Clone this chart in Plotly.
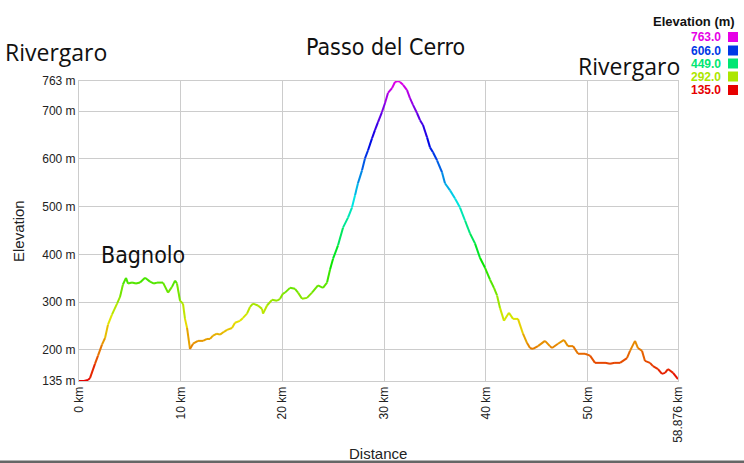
import colorsys
import plotly.graph_objects as go

# ---- data ----
distance_km = [0.0, 0.49, 0.88, 1.08, 1.57, 1.87, 2.26, 2.56, 2.85, 3.24, 3.74, 4.03, 4.32, 4.62,
               4.82, 5.21, 5.60, 6.00, 6.49, 6.98, 7.37, 7.67, 8.26, 8.75, 9.14, 9.44, 9.63, 9.93,
               10.22, 10.42, 10.62, 10.91, 11.21, 11.70, 12.19, 12.58, 12.88, 13.17, 13.56, 13.86,
               14.25, 14.55, 15.04, 15.33, 15.82, 16.12, 16.51, 16.81, 17.10, 17.59, 17.99, 18.09,
               18.48, 18.97, 19.46, 19.76, 20.05, 20.25, 20.74, 21.23, 21.53, 21.92, 22.41, 22.90,
               23.49, 23.98, 24.38, 24.67, 24.97, 25.46, 25.95, 26.44, 26.83, 27.13, 27.42, 27.82,
               28.11, 28.41, 28.80, 29.09, 29.39, 29.78, 30.08, 30.37, 30.77, 31.06, 31.35, 31.55,
               31.85, 32.24, 32.53, 32.83, 33.22, 33.52, 33.81, 34.21, 34.50, 34.79, 35.19, 35.68,
               35.97, 36.47, 36.96, 37.45, 37.94, 38.43, 38.92, 39.41, 39.91, 40.40, 40.79, 41.09,
               41.38, 41.77, 42.26, 42.66, 43.15, 43.64, 44.03, 44.33, 44.62, 45.11, 45.80, 46.29,
               46.49, 47.08, 47.67, 48.06, 48.56, 49.05, 49.74, 50.23, 50.72, 51.21, 51.70, 52.19,
               52.68, 53.18, 53.86, 54.16, 54.65, 54.94, 55.34, 55.63, 56.12, 56.42, 56.91, 57.30,
               57.60, 57.89, 58.39, 58.876]
elevation_m = [135, 135, 137, 141, 171, 188, 211, 225, 253, 274, 297, 311, 337, 351,
               339, 341, 339, 341, 351, 343, 339, 341, 341, 320, 332, 345, 339, 303,
               297, 265, 246, 202, 213, 219, 219, 223, 223, 230, 234, 232,
               238, 242, 246, 257, 261, 267, 276, 290, 297, 293, 286, 276,
               293, 305, 303, 307, 318, 320, 330, 328, 320, 307, 309, 320,
               335, 330, 341, 368, 391, 419, 456, 477, 498, 524, 549, 576,
               601, 618, 643, 660, 677, 698, 717, 738, 748, 761, 763, 761,
               755, 744, 727, 713, 696, 681, 671, 645, 624, 614, 597, 572,
               549, 534, 517, 498, 471, 444, 423, 393, 372, 347, 330, 314,
               288, 261, 278, 265, 265, 234, 215, 204, 202, 208, 219, 208,
               204, 213, 221, 208, 208, 192, 192, 188, 173, 173, 173, 171,
               173, 173, 183, 198, 219, 204, 198, 177, 173, 166, 160, 150,
               152, 160, 152, 139]

x_tick_vals = [0, 10, 20, 30, 40, 50, 58.876]
x_tick_text = ["0 km", "10 km", "20 km", "30 km", "40 km", "50 km", "58.876 km"]
y_tick_vals = [135, 200, 300, 400, 500, 600, 700, 763]
y_tick_text = ["135 m", "200 m", "300 m", "400 m", "500 m", "600 m", "700 m", "763 m"]
legend_values = [763.0, 606.0, 449.0, 292.0, 135.0]

E_MIN, E_MAX = 135.0, 763.0


def elev_color(e):
    h = (e - E_MIN) / (E_MAX - E_MIN) * 300.0 / 360.0
    r, g, b = colorsys.hsv_to_rgb(h, 1.0, 0.9)
    return "rgb(%d,%d,%d)" % (round(r * 255), round(g * 255), round(b * 255))


# plot area in pixels: x 79..678, y 81..381
def px(x):
    return (x - 79) / 599.0


def py(y):
    return (381 - y) / 300.0


fig = go.Figure()
for i in range(len(distance_km) - 1):
    mid = (elevation_m[i] + elevation_m[i + 1]) / 2.0
    fig.add_trace(go.Scatter(
        x=[distance_km[i], distance_km[i + 1]],
        y=[elevation_m[i], elevation_m[i + 1]],
        mode="lines",
        line=dict(color=elev_color(mid), width=2),
        hoverinfo="skip",
        showlegend=False,
    ))

grid = "#cccccc"
fig.update_layout(
    width=744, height=463,
    margin=dict(l=79, r=66, t=81, b=82),
    paper_bgcolor="white", plot_bgcolor="white",
    font=dict(family="Liberation Sans, Arial, sans-serif", color="#222222", size=12),
    showlegend=False,
    xaxis=dict(range=[0, 58.876], tickvals=x_tick_vals, ticktext=x_tick_text,
               tickangle=-90, showgrid=True, gridcolor=grid, gridwidth=1,
               showline=True, linecolor=grid, mirror=True, zeroline=False,
               ticks="", tickfont=dict(size=12, color="#222222")),
    yaxis=dict(range=[135, 763], tickvals=y_tick_vals, ticktext=y_tick_text,
               showgrid=True, gridcolor=grid, gridwidth=1,
               showline=True, linecolor=grid, mirror=True, zeroline=False,
               ticks="", tickfont=dict(size=12, color="#222222")),
)

COND = "DejaVu Sans Condensed, Liberation Sans Narrow, Roboto, sans-serif"
annotations = [
    dict(text="Elevation", x=px(18), y=py(231), textangle=-90,
         font=dict(size=15, color="#222222")),
    dict(text="Distance", x=px(378), y=py(453),
         font=dict(size=15, color="#222222")),
    dict(text="Rivergaro", x=px(56), y=py(52),
         font=dict(family="Open Sans", size=23, color="#111111")),
    dict(text="Rivergaro", x=px(629), y=py(66),
         font=dict(family="Open Sans", size=23, color="#111111")),
    dict(text="<span style='font-stretch:condensed'>Passo del Cerro</span>", x=px(385), y=py(47),
         font=dict(family=COND, size=23, color="#111111")),
    dict(text="<span style='font-stretch:condensed'>Bagnolo</span>", x=px(143), y=py(255),
         font=dict(family=COND, size=23, color="#111111")),
    dict(text="<b>Elevation (m)</b>", x=px(737), y=py(22), xanchor="right",
         font=dict(size=13, color="#111111")),
]
shapes = []
row_y = [37, 50.5, 63.5, 76.5, 90]
for v, yy in zip(legend_values, row_y):
    c = elev_color(v)
    annotations.append(dict(text="<b>%.1f</b>" % v, x=px(723), y=py(yy), xanchor="right",
                            font=dict(size=12, color=c)))
    shapes.append(dict(type="rect", xref="paper", yref="paper",
                       x0=px(728), x1=px(738), y0=py(yy + 5), y1=py(yy - 5),
                       fillcolor=c, line=dict(width=0)))

for a in annotations:
    a.setdefault("xref", "paper")
    a.setdefault("yref", "paper")
    a.setdefault("showarrow", False)
    a.setdefault("xanchor", "center")
    a.setdefault("yanchor", "middle")

shapes.append(dict(type="rect", xref="paper", yref="paper",
                   x0=px(0), x1=px(744), y0=py(463.5), y1=py(460.5),
                   fillcolor="#666666", line=dict(width=0), layer="above"))

fig.update_layout(annotations=annotations, shapes=shapes)
fig.write_html("out.html")
